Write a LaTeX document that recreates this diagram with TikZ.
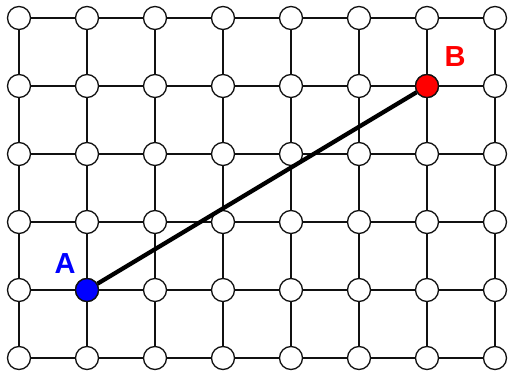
\documentclass[tikz,border=0pt]{standalone}
\usepackage{fontspec}
\setmainfont{Liberation Sans}
\usepackage{tikz}
\usetikzlibrary{positioning}
\definecolor{GridDark}{HTML}{111111}
\definecolor{PtBlue}{HTML}{0000FF}
\definecolor{PtRed}{HTML}{FF0000}
\tikzset{
  dot/.style={circle,draw=GridDark,fill=white,line width=0.75pt,minimum size=0.46cm,inner sep=0pt},
  gridline/.style={GridDark,line width=0.8pt},
  pathline/.style={black,line width=2.4pt},
  ptlabel/.style={font=\fontsize{16.5}{19}\selectfont\bfseries}
}

\begin{document}
\begin{tikzpicture}[x=0.02cm,y=-0.02cm]
\useasboundingbox (0,0) rectangle (508,372);
% lattice points
\foreach \i in {0,...,7}
  \foreach \j in {0,...,5}
    \node[dot] (n-\i-\j) at ({19+68*\i},{18+68*\j}) {};
% lattice edges
\foreach \i/\ii in {0/1,1/2,2/3,3/4,4/5,5/6,6/7}
  \foreach \j in {0,...,5}
    \draw[gridline] (n-\i-\j) -- (n-\ii-\j);
\foreach \i in {0,...,7}
  \foreach \j/\jj in {0/1,1/2,2/3,3/4,4/5}
    \draw[gridline] (n-\i-\j) -- (n-\i-\jj);
% the two marked points
\node[dot,fill=PtBlue] (ptA) at (n-1-4) {};
\node[dot,fill=PtRed] (ptB) at (n-6-1) {};
\draw[pathline] (ptA) -- (ptB);
\node[ptlabel,PtBlue] (labA) at (65,264) {A};
\node[ptlabel,PtRed] (labB) at (455,57) {B};
\end{tikzpicture}
\end{document}
